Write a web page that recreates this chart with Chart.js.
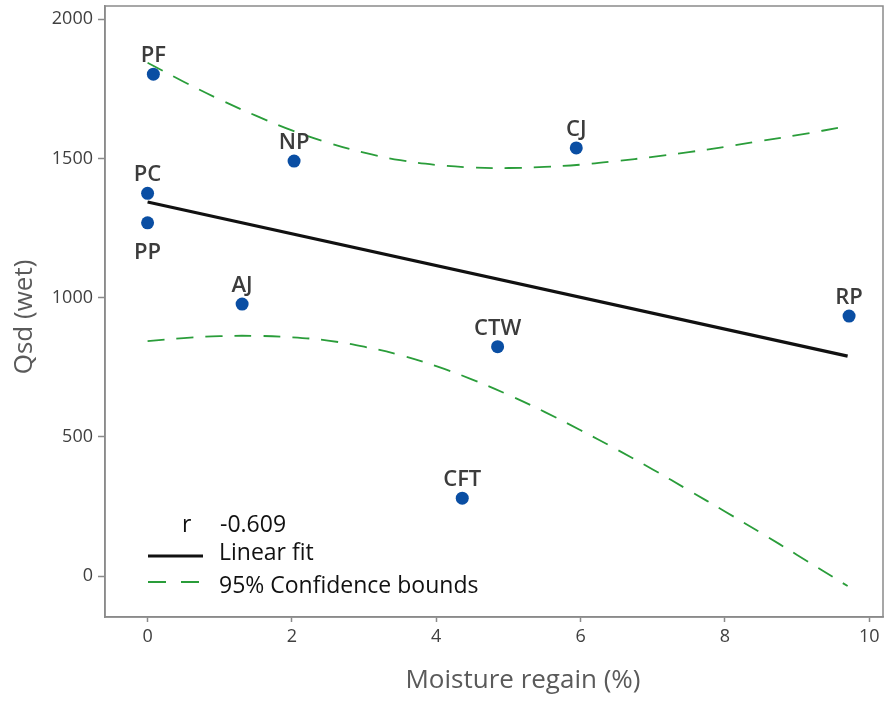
<!DOCTYPE html>
<html>
<head>
<meta charset="utf-8">
<script src="https://cdn.jsdelivr.net/npm/chart.js@4/dist/chart.umd.min.js"></script>
<style>
  html, body { margin: 0; padding: 0; background: #ffffff; }
  canvas { display: block; }
</style>
</head>
<body>
<canvas id="c" width="884" height="701"></canvas>
<script>
// ---- data ----
const ptLabels = ['PF', 'PC', 'PP', 'AJ', 'NP', 'CFT', 'CTW', 'CJ', 'RP'];
const ptX = [0.08, 0.0, 0.0, 1.31, 2.03, 4.36, 4.85, 5.94, 9.72];
const ptY = [1803, 1375, 1269, 977, 1491, 280, 824, 1538, 934];
const labelSide = ['above', 'above', 'below', 'above', 'above', 'above', 'above', 'above', 'above'];

const fitX = [0.0, 9.7];
const fitY = [1344, 790];

const ciX     = [0.0, 0.5, 1.0, 1.5, 2.0, 2.5, 3.0, 3.5, 4.0, 4.5, 5.0, 5.5, 6.0, 6.5, 7.0, 7.5, 8.0, 8.5, 9.0, 9.7];
const ciUpper = [1844, 1776, 1712, 1654, 1601, 1557, 1521, 1494, 1477, 1468, 1466, 1470, 1478, 1491, 1506, 1523, 1542, 1563, 1584, 1616];
const ciLower = [844, 855, 862, 863, 858, 846, 824, 794, 754, 706, 651, 590, 524, 455, 383, 308, 232, 155, 76, -36];

const xTicks = [0, 2, 4, 6, 8, 10];
const yTicks = [0, 500, 1000, 1500, 2000];

const rValue = '-0.609';
const legendFit = 'Linear fit';
const legendCI = '95% Confidence bounds';
const xTitle = 'Moisture regain (%)';
const yTitle = 'Qsd (wet)';

const toXY = (xs, ys) => xs.map((x, i) => ({ x: x, y: ys[i] }));

const FONT = '"Open Sans", "Noto Sans", sans-serif';
const GREEN = '#2a9d3a';
const BLUE = '#0a4ea3';
const AXIS = '#8a8a8a';

const overlay = {
  id: 'overlay',
  afterDatasetsDraw(chart) {
    const ctx = chart.ctx;
    const a = chart.chartArea;
    ctx.save();
    // frame (top/right)
    ctx.strokeStyle = AXIS;
    ctx.lineWidth = 1.5;
    ctx.strokeRect(a.left, a.top, a.right - a.left, a.bottom - a.top);

    // point labels
    const meta = chart.getDatasetMeta(0);
    ctx.font = '600 22px ' + FONT;
    ctx.fillStyle = '#3c3c3c';
    ctx.textAlign = 'center';
    ctx.textBaseline = 'alphabetic';
    meta.data.forEach((el, i) => {
      const dy = labelSide[i] === 'below' ? 36 : -12;
      ctx.fillText(ptLabels[i], el.x, el.y + dy);
    });

    // legend inside plot
    const lx = a.left + 43;
    ctx.font = '23px ' + FONT;
    ctx.fillStyle = '#111111';
    ctx.textAlign = 'left';
    ctx.textBaseline = 'alphabetic';
    ctx.fillText('r', lx + 34, 532);
    ctx.fillText(rValue, lx + 72, 532);
    ctx.fillText(legendFit, lx + 71, 560);
    ctx.fillText(legendCI, lx + 71, 593);

    ctx.strokeStyle = '#111111';
    ctx.lineWidth = 3.2;
    ctx.beginPath();
    ctx.moveTo(lx, 556);
    ctx.lineTo(lx + 55, 556);
    ctx.stroke();

    ctx.strokeStyle = GREEN;
    ctx.lineWidth = 1.8;
    ctx.setLineDash([18, 15]);
    ctx.beginPath();
    ctx.moveTo(lx, 582);
    ctx.lineTo(lx + 53, 582);
    ctx.stroke();
    ctx.setLineDash([]);

    // axis titles
    ctx.font = '26px ' + FONT;
    ctx.fillStyle = '#5a5a5a';
    ctx.textAlign = 'center';
    ctx.textBaseline = 'alphabetic';
    ctx.fillText(xTitle, 523, 688);
    ctx.save();
    ctx.translate(32, 317);
    ctx.rotate(-Math.PI / 2);
    ctx.fillText(yTitle, 0, 0);
    ctx.restore();

    ctx.restore();
  }
};

new Chart(document.getElementById('c'), {
  type: 'scatter',
  data: {
    datasets: [
      {
        label: 'points',
        data: toXY(ptX, ptY),
        backgroundColor: BLUE,
        borderWidth: 0,
        pointRadius: 6.5,
        pointHoverRadius: 6.5,
        showLine: false,
        order: 0
      },
      {
        label: legendFit,
        type: 'line',
        data: toXY(fitX, fitY),
        borderColor: '#111111',
        borderWidth: 3.2,
        pointRadius: 0,
        fill: false,
        order: 1
      },
      {
        label: 'upper',
        type: 'line',
        data: toXY(ciX, ciUpper),
        borderColor: GREEN,
        borderWidth: 1.8,
        borderDash: [17, 12],
        pointRadius: 0,
        tension: 0.4,
        fill: false,
        order: 2
      },
      {
        label: 'lower',
        type: 'line',
        data: toXY(ciX, ciLower),
        borderColor: GREEN,
        borderWidth: 1.8,
        borderDash: [17, 12],
        pointRadius: 0,
        tension: 0.4,
        fill: false,
        order: 2
      }
    ]
  },
  options: {
    responsive: false,
    animation: false,
    devicePixelRatio: 1,
    layout: { autoPadding: false, padding: { top: 6, right: 1, left: 0, bottom: 0 } },
    plugins: {
      legend: { display: false },
      tooltip: { enabled: false },
      title: { display: false }
    },
    scales: {
      x: {
        type: 'linear',
        min: -0.59,
        max: 10.19,
        afterFit(scale) { scale.height = 84; scale.paddingLeft = 0; scale.paddingRight = 0; },
        afterBuildTicks(scale) { scale.ticks = xTicks.map(v => ({ value: v })); },
        grid: { display: true, drawOnChartArea: false, drawTicks: true, tickLength: 5, tickColor: AXIS, tickWidth: 1.5 },
        border: { display: true, color: AXIS, width: 1.5 },
        ticks: {
          color: '#404040',
          padding: 4,
          font: { family: FONT, size: 18 },
          maxRotation: 0,
          callback: v => String(v)
        }
      },
      y: {
        type: 'linear',
        min: -147,
        max: 2048,
        afterFit(scale) { scale.width = 105; scale.paddingTop = 0; scale.paddingBottom = 0; },
        afterBuildTicks(scale) { scale.ticks = yTicks.map(v => ({ value: v })); },
        grid: { display: true, drawOnChartArea: false, drawTicks: true, tickLength: 7, tickColor: AXIS, tickWidth: 1.5 },
        border: { display: true, color: AXIS, width: 1.5 },
        ticks: {
          color: '#404040',
          padding: 5,
          font: { family: FONT, size: 18 },
          callback: v => String(v)
        }
      }
    }
  },
  plugins: [overlay]
});
</script>
</body>
</html>
